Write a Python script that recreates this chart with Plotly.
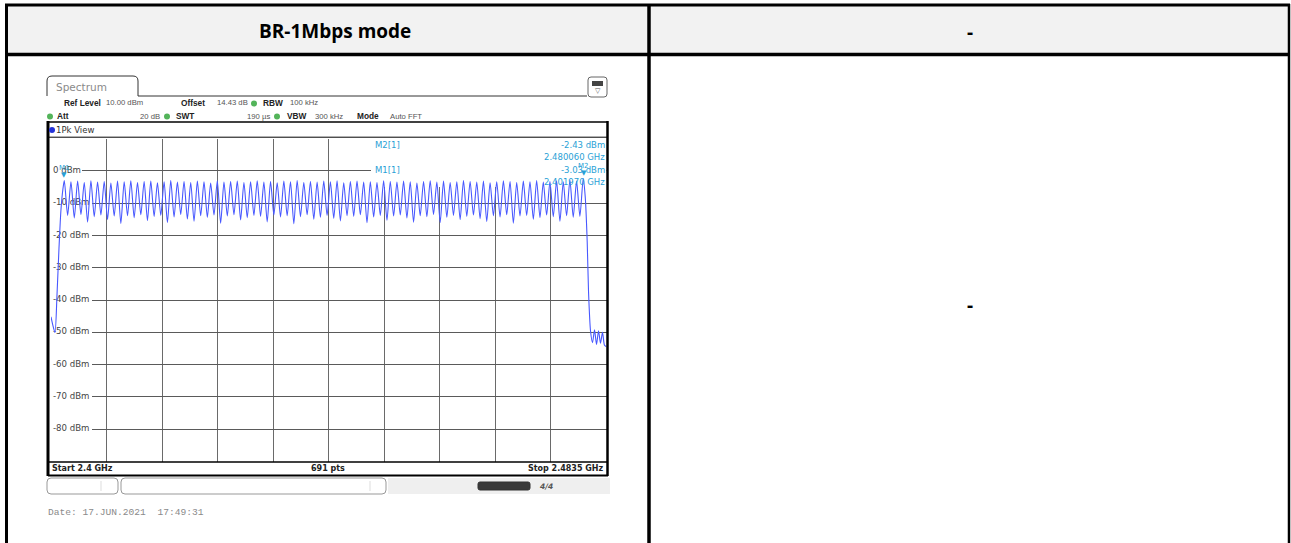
import plotly.graph_objects as go

# ---- data -------------------------------------------------------------
channels_mhz = list(range(2402, 2481))          # 79 hopping channels, 1 MHz apart
peak_dbm = [-3.03, -3.4, -3.2, -3.6, -3.1, -3.5, -3.3, -3.8, -3.2, -3.4,
            -3.1, -3.6, -3.3, -3.2, -3.7, -3.4, -3.0, -3.5, -3.3, -3.6,
            -3.2, -3.4, -3.8, -3.1, -3.5, -3.3, -3.2, -3.6, -3.4, -3.1,
            -3.5, -3.3, -3.7, -3.2, -3.4, -3.0, -3.6, -3.3, -3.5, -3.2,
            -3.4, -3.1, -3.7, -3.3, -3.2, -3.5, -3.4, -3.6, -3.1, -3.3,
            -3.5, -3.2, -3.4, -3.8, -3.3, -3.1, -3.5, -3.2, -3.6, -3.4,
            -3.0, -3.3, -3.5, -3.2, -3.7, -3.4, -3.1, -3.3, -3.6, -3.2,
            -3.4, -3.0, -3.5, -3.3, -3.1, -3.4, -2.9, -3.2, -2.43]
trough_dbm = [-13.8, -14.6, -13.5, -15.9, -14.2, -13.7, -15.1, -14.0, -16.3, -13.9,
              -14.5, -13.6, -15.4, -14.1, -13.8, -16.0, -14.3, -13.5, -14.9, -15.6,
              -13.9, -14.4, -13.7, -16.2, -14.0, -13.6, -15.2, -14.5, -13.8, -14.1,
              -15.8, -13.7, -14.3, -13.9, -16.4, -14.2, -13.6, -15.0, -14.4, -13.8,
              -14.7, -15.5, -13.9, -14.1, -13.6, -16.1, -14.3, -13.8, -15.3, -14.0,
              -13.7, -14.6, -15.9, -13.9, -14.2, -13.5, -16.0, -14.4, -13.8, -15.1,
              -14.1, -13.7, -14.8, -15.7, -13.9, -14.3, -13.6, -16.2, -14.0, -13.8,
              -15.0, -14.5, -13.7, -14.2, -15.6, -13.9, -14.4, -14.1]
# band edges (GHz, dBm)
low_edge_ghz = [2.4000, 2.4003, 2.4006, 2.4009, 2.4012, 2.4015, 2.4018]
low_edge_dbm = [-45.2, -48.0, -50.1, -38.5, -24.0, -12.0, -5.5]
high_edge_ghz = [2.4803, 2.4806, 2.4808, 2.4811, 2.4814, 2.4817, 2.4820,
                 2.4823, 2.4826, 2.4829, 2.4832, 2.4835]
high_edge_dbm = [-8.0, -22.0, -37.5, -49.6, -53.2, -49.2, -53.8,
                 -49.5, -53.4, -50.0, -54.0, -54.5]

markers = ["M1", "M2"]
marker_ghz = [2.401970, 2.480060]
marker_dbm = [-3.03, -2.43]

y_ticks = [0, -10, -20, -30, -40, -50, -60, -70, -80]
f_start, f_stop = 2.4, 2.4835
ref_level, bottom_level = 10, -90

# assemble the trace: edge, alternating peak/trough per channel, edge
trace_x = list(low_edge_ghz)
trace_y = list(low_edge_dbm)
for i, ch in enumerate(channels_mhz):
    trace_x.append(ch / 1000)
    trace_y.append(peak_dbm[i])
    if i < len(trough_dbm):
        trace_x.append((ch + 0.5) / 1000)
        trace_y.append(trough_dbm[i])
trace_x += high_edge_ghz
trace_y += high_edge_dbm

# ---- geometry helpers (page pixels) ----------------------------------
W, H = 1291, 543
PX0, PX1 = 51.0, 606.5        # diagram left/right
PY0, PY1 = 138.5, 461.5       # diagram top/bottom


def fx(x):
    return x / W


def fy(y):
    return 1 - y / H


def data_x(px):
    return f_start + (px - PX0) / (PX1 - PX0) * (f_stop - f_start)


def data_y(py):
    return ref_level - (py - PY0) / (PY1 - PY0) * (ref_level - bottom_level)


shapes = []
annotations = []


def line(x0, y0, x1, y1, color="black", width=1, layer="above"):
    shapes.append(dict(type="line", xref="paper", yref="paper",
                       x0=fx(x0), y0=fy(y0), x1=fx(x1), y1=fy(y1),
                       line=dict(color=color, width=width), layer=layer))


def rect(x0, y0, x1, y1, fill, lc=None, lw=0, layer="above"):
    shapes.append(dict(type="rect", xref="paper", yref="paper",
                       x0=fx(x0), y0=fy(y0), x1=fx(x1), y1=fy(y1),
                       fillcolor=fill, line=dict(color=lc or fill, width=lw),
                       layer=layer))


def rrect(x0, y0, x1, y1, r, fill="rgba(0,0,0,0)", lc="#888", lw=1):
    p = (f"M {fx(x0 + r)},{fy(y0)} L {fx(x1 - r)},{fy(y0)} "
         f"Q {fx(x1)},{fy(y0)} {fx(x1)},{fy(y0 + r)} L {fx(x1)},{fy(y1 - r)} "
         f"Q {fx(x1)},{fy(y1)} {fx(x1 - r)},{fy(y1)} L {fx(x0 + r)},{fy(y1)} "
         f"Q {fx(x0)},{fy(y1)} {fx(x0)},{fy(y1 - r)} L {fx(x0)},{fy(y0 + r)} "
         f"Q {fx(x0)},{fy(y0)} {fx(x0 + r)},{fy(y0)} Z")
    shapes.append(dict(type="path", xref="paper", yref="paper", path=p,
                       fillcolor=fill, line=dict(color=lc, width=lw)))


def dot(x, y, r, color):
    shapes.append(dict(type="circle", xref="paper", yref="paper",
                       x0=fx(x - r), y0=fy(y + r), x1=fx(x + r), y1=fy(y - r),
                       fillcolor=color, line=dict(width=0)))


def text(x, y, s, size=8, color="#333", bold=False, anchor="left",
         family="DejaVu Sans"):
    annotations.append(dict(x=fx(x), y=fy(y), xref="paper", yref="paper",
                            text=f"<b>{s}</b>" if bold else s, showarrow=False,
                            xanchor=anchor, yanchor="middle", borderpad=0,
                            font=dict(size=size, color=color, family=family)))


# ---- table frame -------------------------------------------------------
rect(7, 6, 1288, 53, "#f2f2f2", layer="below")
line(5, 5, 1290, 5, width=3)
line(5, 54.5, 1290, 54.5, width=3.5)
line(6.5, 4, 6.5, 543, width=3)
line(649, 4, 649, 543, width=3.5)
line(1289, 4, 1289, 543, width=2.5)
text(335, 31, "BR-1Mbps mode", size=19, color="black", bold=True,
     anchor="center", family="Open Sans")
text(970, 32, "-", size=19, color="black", bold=True, anchor="center",
     family="Open Sans")
text(970, 305, "-", size=19, color="black", bold=True, anchor="center",
     family="Open Sans")

# ---- analyzer header -------------------------------------------------
tab = (f"M {fx(47)},{fy(96)} L {fx(47)},{fy(81)} Q {fx(47)},{fy(76)} {fx(52)},{fy(76)} "
       f"L {fx(133)},{fy(76)} Q {fx(138)},{fy(76)} {fx(138)},{fy(81)} "
       f"L {fx(138)},{fy(96)} L {fx(587)},{fy(96)}")
shapes.append(dict(type="path", xref="paper", yref="paper", path=tab,
                   line=dict(color="#333", width=1)))
text(55, 87, "Spectrum", size=10.5, color="#8a8a8a")
rrect(588, 77, 607, 97, 3, fill="white", lc="#666", lw=1)
rect(592, 81, 603, 86, "#444")
text(597.5, 91, "▽", size=7, color="#555", anchor="center")

GREEN = "#53b45a"
HS = 8.3     # bold field names
VS = 7.7     # field values
HF = "Liberation Sans"
text(63, 103, "Ref Level", size=HS, bold=True, color="#222", family=HF)
text(105, 103, "10.00 dBm", size=VS, color="#555", family=HF)
text(180, 103, "Offset", size=HS, bold=True, color="#222", family=HF)
text(216, 103, "14.43 dB", size=VS, color="#555", family=HF)
dot(254, 103.5, 3, GREEN)
text(262, 103, "RBW", size=HS, bold=True, color="#222", family=HF)
text(289, 103, "100 kHz", size=VS, color="#555", family=HF)

dot(50, 116.5, 3, GREEN)
text(56, 116, "Att", size=HS, bold=True, color="#222", family=HF)
text(161, 116, "20 dB", size=VS, color="#555", anchor="right", family=HF)
dot(167, 116.5, 3, GREEN)
text(175, 116, "SWT", size=HS, bold=True, color="#222", family=HF)
text(271, 116, "190 µs", size=VS, color="#555", anchor="right", family=HF)
dot(277, 116.5, 3, GREEN)
text(286, 116, "VBW", size=HS, bold=True, color="#222", family=HF)
text(314, 116, "300 kHz", size=VS, color="#555", family=HF)
text(356, 116, "Mode", size=HS, bold=True, color="#222", family=HF)
text(389, 116, "Auto FFT", size=VS, color="#555", family=HF)

# ---- diagram frame ---------------------------------------------------
line(48, 122, 608, 122, width=1.5)
line(48, 121, 48, 476, width=3)
line(607.5, 121, 607.5, 476, width=2.5)
line(48, 137.2, 608, 137.2, width=1)
line(48, 462, 608, 462, width=1.5)
line(48, 475.5, 608, 475.5, width=2)
dot(52, 130, 3, "#2432d8")
text(55, 130, "1Pk View", size=8.5, color="#333")
text(51, 468.5, "Start 2.4 GHz", size=8, bold=True, color="#222")
text(328, 468.5, "691 pts", size=8, bold=True, color="#222", anchor="center")
text(605, 468.5, "Stop 2.4835 GHz", size=8, bold=True, color="#222", anchor="right")

# ---- status bar and date -----------------------------------------------
rrect(47, 478, 118, 494, 4, fill="white", lc="#999", lw=1)
line(101, 481, 101, 491, color="#ddd")
rrect(121, 478, 386, 494, 4, fill="white", lc="#999", lw=1)
line(370, 481, 370, 491, color="#ddd")
rect(388, 478, 610, 494, "#efefef")
rrect(478, 482, 530, 490, 2, fill="#3a3a3a", lc="#333", lw=1)
text(546, 486, "<i>4/4</i>", size=7.5, color="#555", bold=True, anchor="center")
text(47, 512, "Date:\u00a017.JUN.2021\u00a0\u00a017:49:31", size=9.6, color="#8a8a8a",
     family="Liberation Mono")

# ---- white backdrops in the diagram (between grid and trace) -----------
label_end = {0: 82}
for v in y_ticks:
    py = PY0 + (ref_level - v) / (ref_level - bottom_level) * (PY1 - PY0)
    shapes.append(dict(type="rect", xref="x", yref="y", layer="between",
                       x0=data_x(PX0 - 1), x1=data_x(label_end.get(v, 92)),
                       y0=data_y(py - 5), y1=data_y(py + 5),
                       fillcolor="white", line=dict(width=0)))
shapes.append(dict(type="rect", xref="x", yref="y", layer="between",
                   x0=data_x(371), x1=data_x(PX1 + 1),
                   y0=data_y(PY0), y1=data_y(187),
                   fillcolor="white", line=dict(width=0)))

# marker readout
MC = "#2a9fd6"
text(374, 145, "M2[1]", size=8.5, color=MC)
text(606, 145, "-2.43 dBm", size=8.5, color=MC, anchor="right")
text(606, 157, "2.480060 GHz", size=8.5, color=MC, anchor="right")
text(374, 170, "M1[1]", size=8.5, color=MC)
text(606, 170, "-3.03 dBm", size=8.5, color=MC, anchor="right")
text(606, 182, "2.401970 GHz", size=8.5, color=MC, anchor="right")

# ---- figure --------------------------------------------------------------
fig = go.Figure()
fig.add_trace(go.Scatter(
    x=[data_x(53)] * len(y_ticks), y=y_ticks, mode="text",
    text=[f"{v} dBm" for v in y_ticks], textposition="middle right",
    textfont=dict(size=8.6, color="#444", family="DejaVu Sans"),
    hoverinfo="skip", showlegend=False, cliponaxis=False))
fig.add_trace(go.Scatter(
    x=trace_x, y=trace_y, mode="lines",
    line=dict(color="rgb(72,88,255)", width=1.1, shape="spline", smoothing=0.7),
    showlegend=False))

for name, mx, my in zip(markers, marker_ghz, marker_dbm):
    fig.add_annotation(x=mx, y=my, xref="x", yref="y", text="▼", showarrow=False,
                       yanchor="bottom", yshift=0,
                       font=dict(size=7, color=MC, family="DejaVu Sans"))
    fig.add_annotation(x=mx, y=my, xref="x", yref="y", text=name, showarrow=False,
                       yanchor="bottom", yshift=7,
                       font=dict(size=7, color=MC, family="DejaVu Sans"))

fig.update_layout(
    width=W, height=H, margin=dict(l=0, r=0, t=0, b=0),
    paper_bgcolor="white", plot_bgcolor="white",
    shapes=shapes, annotations=list(fig.layout.annotations) + annotations,
    xaxis=dict(domain=[PX0 / W, PX1 / W], range=[f_start, f_stop],
               tick0=f_start, dtick=(f_stop - f_start) / 10,
               showgrid=True, gridcolor="#6a6a6a", gridwidth=1,
               showticklabels=False, ticks="", zeroline=False, showline=False,
               fixedrange=True),
    yaxis=dict(domain=[1 - PY1 / H, 1 - PY0 / H], range=[bottom_level, ref_level],
               tick0=0, dtick=10, showgrid=True, gridcolor="#5a5a5a", gridwidth=1,
               showticklabels=False, ticks="", zeroline=False, showline=False,
               fixedrange=True),
    hovermode=False,
)

fig.write_html("out.html", config={"displayModeBar": False})
